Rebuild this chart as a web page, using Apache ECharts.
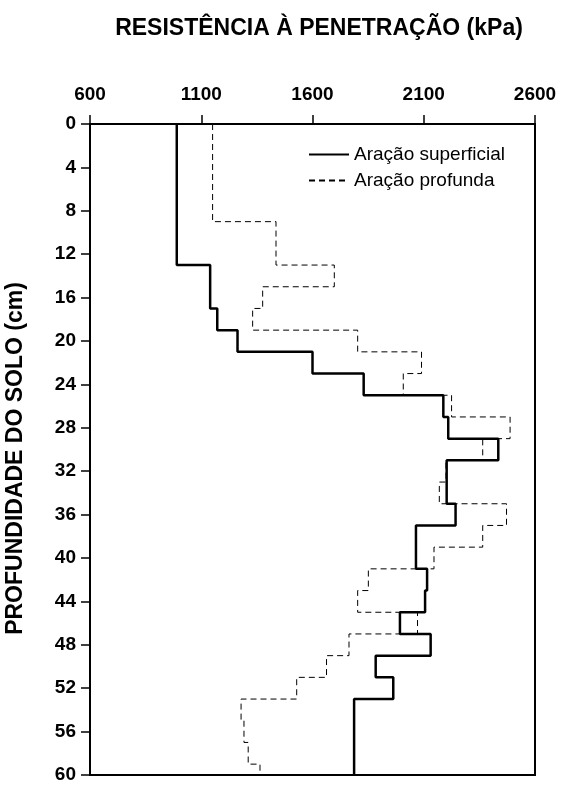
<!DOCTYPE html>
<html><head><meta charset="utf-8">
<script src="https://cdn.jsdelivr.net/npm/echarts@6/dist/echarts.min.js"></script>
<style>html,body{margin:0;padding:0;background:#fff}#c{width:563px;height:785px}</style>
</head><body><div id="c"></div>
<script>
// Depth breakpoints (cm) and resistance values (kPa) for each step
const superficialDepths = [0,13,17,19,21,23,25,27,29,31,35,37,41,43,45,47,49,51,53,60];
const superficialValues = [990,1140,1172,1263,1600,1830,2188,2210,2435,2203,2243,2065,2115,2106,1993,2131,1884,1963,1787];
const profundaDepths = [0,9,13,15,17,19,21,23,25,27,29,31,33,35,37,39,41,43,45,47,49,51,53,55,57,59,60];
const profundaValues = [1151,1436,1698,1376,1331,1803,2090,2008,2225,2488,2365,2200,2170,2472,2365,2146,1851,1803,2072,1764,1663,1529,1279,1292,1311,1364];
const xTicks = [600,1100,1600,2100,2600];
const yTicks = [0,4,8,12,16,20,24,28,32,36,40,44,48,52,56,60];

function steps(depths, values){
  const pts = [];
  for (let i=0;i<values.length;i++){
    pts.push([values[i], depths[i]]);
    pts.push([values[i], depths[i+1]]);
  }
  return pts;
}

const chart = echarts.init(document.getElementById('c'));
const font = 'Liberation Sans, Arial, sans-serif';
chart.setOption({
  animation:false,
  backgroundColor:'#fff',
  title:{text:'RESISTÊNCIA À PENETRAÇÃO (kPa)', left:314, textAlign:'center', top:12,
    textStyle:{fontFamily:font, fontSize:23, fontWeight:'bold', color:'#000'}},
  grid:{left:90, right:28, top:124, bottom:10, show:true, borderColor:'#000', borderWidth:2,
    containLabel:false, outerBoundsMode:'none'},
  legend:{left:303, top:140, orient:'vertical', itemWidth:40, itemHeight:12, itemGap:7,
    itemStyle:{opacity:0},
    textStyle:{fontFamily:font, fontSize:19, color:'#000'},
    data:['Aração superficial','Aração profunda']},
  xAxis:{type:'value', position:'top', min:600, max:2600, interval:500,
    axisLine:{show:true, lineStyle:{color:'#000', width:2}},
    axisTick:{show:true, length:9, inside:false, lineStyle:{color:'#000', width:1.5}},
    axisLabel:{fontFamily:font, fontSize:19, fontWeight:'bold', color:'#000', margin:20,
      formatter:v=>xTicks.includes(v)?String(v):''},
    splitLine:{show:false}},
  yAxis:{type:'value', inverse:true, min:0, max:60, interval:4,
    name:'PROFUNDIDADE DO SOLO (cm)', nameLocation:'middle', nameGap:63, nameRotate:90,
    nameTextStyle:{fontFamily:font, fontSize:23, fontWeight:'bold', color:'#000', padding:[0,18,0,0]},
    axisLine:{show:true, lineStyle:{color:'#000', width:2}},
    axisTick:{show:true, length:9, lineStyle:{color:'#000', width:1.5}},
    axisLabel:{fontFamily:font, fontSize:19, fontWeight:'bold', color:'#000', margin:14,
      formatter:v=>yTicks.includes(v)?String(v):''},
    splitLine:{show:false}},
  series:[
    {name:'Aração superficial', type:'line', symbol:'none', data:steps(superficialDepths, superficialValues),
      lineStyle:{color:'#000', width:2.5}, itemStyle:{color:'#000'}},
    {name:'Aração profunda', type:'line', symbol:'none', data:steps(profundaDepths, profundaValues),
      lineStyle:{color:'#000', width:1, type:[6,4]}, itemStyle:{color:'#000'}}
  ]
});
</script></body></html>
